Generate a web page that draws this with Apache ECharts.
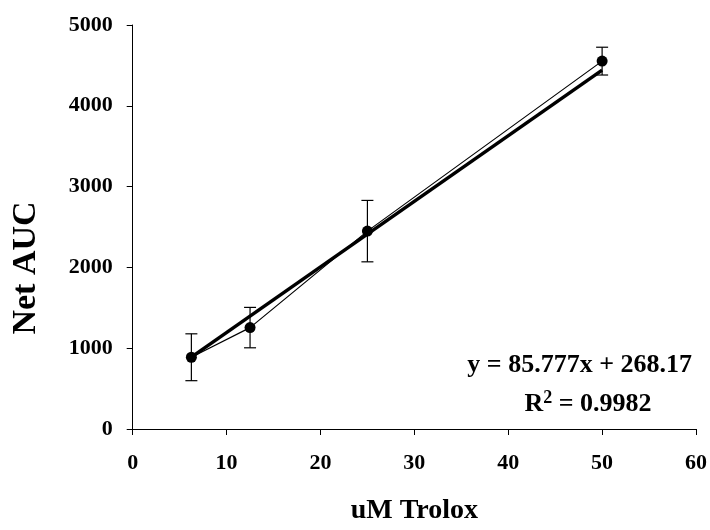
<!DOCTYPE html>
<html>
<head>
<meta charset="utf-8">
<script src="https://cdn.jsdelivr.net/npm/echarts@6/dist/echarts.min.js"></script>
<style>html,body{margin:0;padding:0;background:#fff;}#c{width:710px;height:530px;}</style>
</head>
<body>
<div id="c"></div>
<script>
// Data
var xValues = [6.25, 12.5, 25, 50];
var yValues = [888, 1255, 2449, 4553];
var errValues = [290, 250, 380, 172];
var trendX = [6.25, 50];
var trendY = [889, 4441];
var xTicks = [0, 10, 20, 30, 40, 50, 60];
var yTicks = [0, 1000, 2000, 3000, 4000, 5000];
var eqText = 'y = 85.777x + 268.17';
var r2Value = '0.9982';

var FONT = '"Liberation Serif", "Times New Roman", serif';
var chart = echarts.init(document.getElementById('c'), null, {renderer: 'canvas'});

var pts = xValues.map(function (x, i) { return [x, yValues[i]]; });
var errData = xValues.map(function (x, i) { return [x, yValues[i] - errValues[i], yValues[i] + errValues[i]]; });
var trendData = trendX.map(function (x, i) { return [x, trendY[i]]; });

var option = {
  animation: false,
  backgroundColor: '#ffffff',
  grid: {left: 132.7, right: 14, top: 25, bottom: 97.3, containLabel: false},
  xAxis: {
    type: 'value', min: xTicks[0], max: xTicks[xTicks.length - 1], interval: 10,
    name: 'uM Trolox', nameLocation: 'middle', nameGap: 68,
    nameTextStyle: {fontFamily: FONT, fontWeight: 'bold', fontSize: 28, color: '#000'},
    axisLine: {lineStyle: {color: '#000', width: 1}},
    axisTick: {show: true, inside: false, length: 6, lineStyle: {color: '#000'}},
    axisLabel: {fontFamily: FONT, fontWeight: 'bold', fontSize: 22, color: '#000', margin: 23,
                formatter: function (v) { return String(v); }},
    splitLine: {show: false}
  },
  yAxis: {
    type: 'value', min: yTicks[0], max: yTicks[yTicks.length - 1], interval: 1000,
    axisLine: {show: true, lineStyle: {color: '#000', width: 1}},
    axisTick: {show: true, inside: false, length: 6, lineStyle: {color: '#000'}},
    axisLabel: {fontFamily: FONT, fontWeight: 'bold', fontSize: 22, color: '#000', margin: 20,
                formatter: function (v) { return String(v); }},
    splitLine: {show: false}
  },
  graphic: [
    {type: 'text', x: 26, y: 268, rotation: Math.PI / 2,
     style: {text: 'Net AUC', font: 'bold 34px ' + FONT, fill: '#000', textAlign: 'center', textVerticalAlign: 'middle'}},
    {type: 'text', x: 692, y: 365,
     style: {text: eqText, font: 'bold 26px ' + FONT, fill: '#000', textAlign: 'right', textVerticalAlign: 'middle'}},
    {type: 'text', x: 588, y: 403,
     style: {
       text: '{a|R}{s|2}{a| = ' + r2Value + '}',
       textAlign: 'center', textVerticalAlign: 'middle',
       rich: {
         a: {font: 'bold 26px ' + FONT, fill: '#000', verticalAlign: 'bottom'},
         s: {font: 'bold 18px ' + FONT, fill: '#000', verticalAlign: 'top', padding: [0, 0, 10, 0]}
       }
     }}
  ],
  series: [
    {
      type: 'line', name: 'trend', data: trendData, showSymbol: false, symbol: 'none',
      lineStyle: {color: '#000', width: 3.5}, z: 2, silent: true
    },
    {
      type: 'custom', name: 'error',
      data: errData,
      renderItem: function (params, api) {
        var x = api.value(0);
        var lo = api.coord([x, api.value(1)]);
        var hi = api.coord([x, api.value(2)]);
        var cap = 6;
        var st = {stroke: '#000', lineWidth: 1.2};
        return {type: 'group', children: [
          {type: 'line', shape: {x1: lo[0], y1: lo[1], x2: hi[0], y2: hi[1]}, style: st},
          {type: 'line', shape: {x1: lo[0] - cap, y1: lo[1], x2: lo[0] + cap, y2: lo[1]}, style: st},
          {type: 'line', shape: {x1: hi[0] - cap, y1: hi[1], x2: hi[0] + cap, y2: hi[1]}, style: st}
        ]};
      },
      z: 3
    },
    {
      type: 'line', name: 'data', data: pts, symbol: 'circle', symbolSize: 11, showSymbol: true,
      itemStyle: {color: '#000'}, lineStyle: {color: '#000', width: 1.2}, z: 4
    }
  ]
};
chart.setOption(option);
</script>
</body>
</html>
